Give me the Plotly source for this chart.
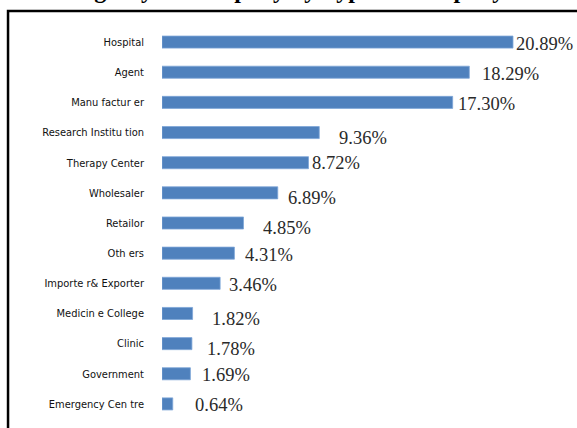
import plotly.graph_objects as go

categories = ["Hospital", "Agent", "Manu factur er", "Research Institu tion", "Therapy Center",
              "Wholesaler", "Retailor", "Oth ers", "Importe r& Exporter", "Medicin e College",
              "Clinic", "Government", "Emergency Cen tre"]
values = [20.89, 18.29, 17.30, 9.36, 8.72, 6.89, 4.85, 4.31, 3.46, 1.82, 1.78, 1.69, 0.64]
value_labels = ["20.89%", "18.29%", "17.30%", "9.36%", "8.72%", "6.89%", "4.85%",
                "4.31%", "3.46%", "1.82%", "1.78%", "1.69%", "0.64%"]
# small pixel offsets of each value label (layout only)
label_dx = [1, 11, 3, 18, 1, 8, 18, 9, 7, 17, 13, 10, 20]
label_dy = [-2, -2, -2, -5, 0, -5, -5, -2, -2, -6, -5, -1, -1]
title_text = "Agency of Company by Type of Company"

fig = go.Figure()
fig.add_trace(go.Bar(
    x=values, y=categories, orientation="h",
    marker=dict(color="#4F81BD", line=dict(color="#7EA6D8", width=0.8)),
    width=0.4, hoverinfo="skip",
))

for v, lab, dx, dy, c in zip(values, value_labels, label_dx, label_dy, categories):
    fig.add_annotation(x=v, y=c, xref="x", yref="y", text=lab, showarrow=False,
                       xanchor="left", yanchor="middle", xshift=dx, yshift=dy,
                       font=dict(family="Liberation Serif", size=18.5, color="#2a2a2a"))

# cropped title at the very top
fig.add_annotation(x=0.31, y=1.057, xref="paper", yref="paper", text="<b>" + title_text + "</b>",
                   showarrow=False, xanchor="center", yanchor="bottom",
                   font=dict(family="Liberation Serif", size=24, color="#000000"))

# outer frame
fig.add_shape(type="rect", xref="paper", yref="paper", x0=-0.371, x1=1.2, y0=-0.2, y1=1.041,
              line=dict(color="#000000", width=2.5), fillcolor="rgba(0,0,0,0)")

fig.update_layout(
    width=577, height=428,
    margin=dict(l=162, r=0, t=27, b=9),
    paper_bgcolor="white", plot_bgcolor="white",
    showlegend=False,
    xaxis=dict(range=[0, 24.7], visible=False),
    yaxis=dict(autorange="reversed", showgrid=False, zeroline=False, showline=False,
               ticks="", ticklabelstandoff=17,
               tickfont=dict(family="DejaVu Sans Condensed", size=11, color="#111111")),
)

fig.write_html("out.html", config={"displayModeBar": False},
               post_script="document.body.style.margin='0';document.body.style.overflow='hidden';")
